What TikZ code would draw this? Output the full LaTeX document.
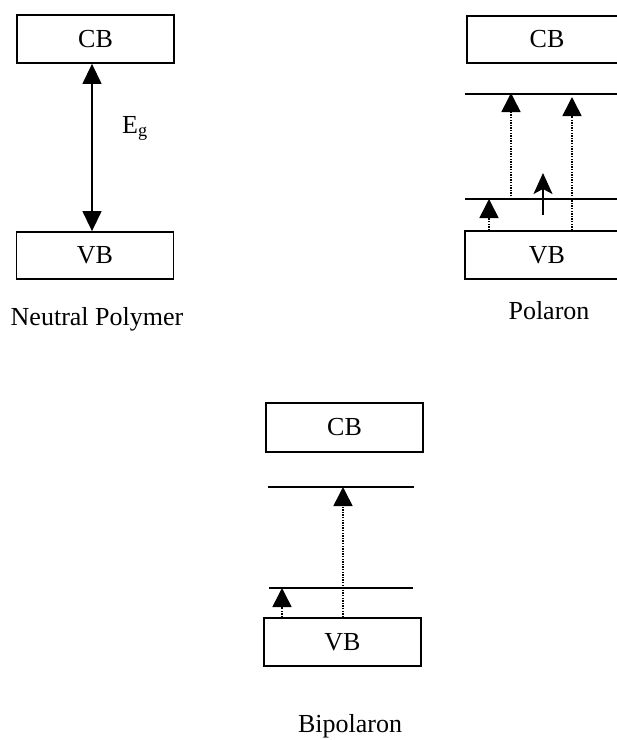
\documentclass[tikz,border=0pt]{standalone}
\usepackage{fontspec}
\setmainfont{Liberation Serif}
\usetikzlibrary{arrows.meta}
\begin{document}
\begin{tikzpicture}[x=1pt,y=-1pt,
  font=\fontsize{26}{30}\selectfont,
  band/.style={draw, line width=1.8pt, minimum width=157pt, minimum height=48pt, inner sep=0pt},
  level/.style={line width=2pt},
  dblarrow/.style={line width=1.3pt, {Triangle[width=19pt,length=20pt]}-{Triangle[width=19pt,length=20pt]}},
  dotarrow/.style={line width=1.6pt, dash pattern=on 1.4pt off 1.2pt, -{Triangle[width=19pt,length=19pt]}},
  spinarrow/.style={line width=1.5pt, -{Stealth[width=19pt,length=21pt,inset=5pt]}},
  caption/.style={anchor=base}]
\useasboundingbox (0,0) rectangle (617,740);

% ---------- Neutral polymer ----------
\node[band] (nCB) at (95.5,39) {CB};
\node[band, minimum height=47pt] (nVB) at (95,255.5) {VB};
\coordinate (nX) at (92,0);
\draw[dblarrow] (nVB.north -| nX) -- (nCB.south -| nX);
\node[anchor=base west, inner sep=0pt] (Eg) at (122,133) {E\textsubscript{g}};
\node[caption] (nLab) at (97,325) {Neutral Polymer};

% ---------- Polaron ----------
\node[band, minimum width=160pt, minimum height=47pt] (pCB) at (547,39.5) {CB};
\node[band, minimum width=164pt] (pVB) at (547,255) {VB};
\coordinate (pUpL) at (465,94);
\coordinate (pUpR) at (620,94);
\coordinate (pLoL) at (465,199);
\coordinate (pLoR) at (620,199);
\draw[level] (pUpL) -- (pUpR);
\draw[level] (pLoL) -- (pLoR);
\coordinate (pA1) at (489,0);
\coordinate (pA2) at (511,0);
\coordinate (pA4) at (572,0);
\coordinate (pS0) at (543,215);
\coordinate (pS1) at (543,173);
\coordinate (pTop) at (0,93);
\coordinate (pTop2) at (0,97);
\draw[dotarrow] (pVB.north -| pA1) -- (pLoL -| pA1);
\draw[dotarrow] (pLoL -| pA2) -- (pTop -| pA2);
\draw[dotarrow] (pVB.north -| pA4) -- (pTop2 -| pA4);
\draw[spinarrow] (pS0) -- (pS1);
\node[caption] (pLab) at (549,319) {Polaron};

% ---------- Bipolaron ----------
\node[band, minimum height=49pt] (bCB) at (344.5,427.5) {CB};
\node[band] (bVB) at (342.5,642) {VB};
\coordinate (bUpL) at (268,487);
\coordinate (bUpR) at (414,487);
\coordinate (bLoL) at (269,588);
\coordinate (bLoR) at (413,588);
\draw[level] (bUpL) -- (bUpR);
\draw[level] (bLoL) -- (bLoR);
\coordinate (bA1) at (282,0);
\coordinate (bA2) at (343,0);
\draw[dotarrow] (bVB.north -| bA1) -- (bLoL -| bA1);
\draw[dotarrow] (bVB.north -| bA2) -- (bUpL -| bA2);
\node[caption] (bLab) at (350,732) {Bipolaron};
\end{tikzpicture}
\end{document}
